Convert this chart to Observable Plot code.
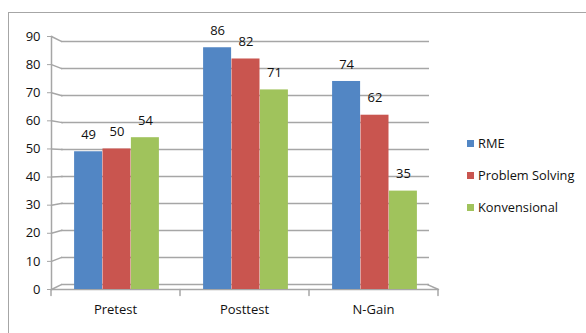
<!DOCTYPE html>
<html>
<head>
<meta charset="utf-8">
<script src="https://cdn.jsdelivr.net/npm/d3@7"></script>
<script src="https://cdn.jsdelivr.net/npm/@observablehq/plot@0.6"></script>
<style>
  html, body { margin: 0; padding: 0; background: #fff; }
  #wrap { position: relative; width: 586px; height: 333px; overflow: hidden; font-family: "Open Sans", sans-serif; }
  #border { position: absolute; left: 8px; top: 12px; width: 600px; height: 400px; border-left: 1.5px solid #A6A6A6; border-top: 1.5px solid #A6A6A6; }
  #chart { position: absolute; left: 0; top: 0; }
  #legend { position: absolute; left: 467px; top: 127px; font-size: 12.8px; color: #111; }
  .item { display: flex; align-items: center; height: 32px; }
  .sw { width: 7px; height: 7px; margin-right: 4px; }
</style>
</head>
<body>
<div id="wrap">
  <div id="border"></div>
  <div id="chart"></div>
  <div id="legend"></div>
</div>
<script>
const categories = ["Pretest", "Posttest", "N-Gain"];
const seriesNames = ["RME", "Problem Solving", "Konvensional"];
const rme = [49, 86, 74];
const problemSolving = [50, 82, 62];
const konvensional = [54, 71, 35];
const yTicks = [0, 10, 20, 30, 40, 50, 60, 70, 80, 90];

const colors = ["#5286C4", "#C9554F", "#A0C35C"];
const gridColor = "#A6A6A6";
const barW = 28.4;
const halfStep = 64.5;

// plain line segment shape for vectors (no arrowhead)
const segment = {draw(context, l) { context.moveTo(0, 0); context.lineTo(0, -l); }};

// back-wall (3D perspective) position of a gridline value, in y-scale units
const wall = v => 1.78 + 0.9605 * v;
// slope of the little perspective stub from the axis to the back wall
const stubRotate = v => 90 + Math.atan2(-5 + 0.111 * v, 10) * 180 / Math.PI;

const seriesData = [rme, problemSolving, konvensional];
const offsets = [-barW + 1.5, 1.5, barW + 1.5];

const barMarks = seriesData.map((vals, i) =>
  Plot.barY(categories, {x: d => d, y: (d, j) => vals[j], fill: colors[i], dx: offsets[i]})
);
const labelMarks = seriesData.map((vals, i) =>
  Plot.text(categories, {x: d => d, y: (d, j) => vals[j], text: (d, j) => String(vals[j]), dx: offsets[i], dy: -17, fill: "#111", fontSize: 13})
);

const chart = Plot.plot({
  width: 586,
  height: 333,
  marginLeft: 51,
  marginRight: 148,
  marginTop: 36,
  marginBottom: 44,
  style: {fontFamily: "Open Sans, sans-serif", fontSize: "13px", background: "transparent", color: "#111"},
  x: {domain: categories, paddingInner: 0.78, paddingOuter: 0.39, label: null},
  y: {domain: [0, 90], label: null},
  marks: [
    // back wall gridlines
    Plot.ruleY(yTicks, {y: d => wall(d), insetLeft: 10, insetRight: 9, stroke: gridColor, strokeWidth: 1.5}),
    // perspective stubs
    Plot.vector(yTicks, {y: d => d, frameAnchor: "left", rotate: d => stubRotate(d), length: 11, anchor: "start", shape: segment, stroke: gridColor, strokeWidth: 1.5}),
    // floor front edge
    Plot.ruleY([0], {stroke: gridColor, strokeWidth: 1.5}),
    // floor right diagonal
    Plot.vector([0], {y: d => d, frameAnchor: "right", rotate: 294, length: 12, anchor: "start", shape: segment, stroke: gridColor, strokeWidth: 1.5}),
    // category boundary ticks
    Plot.vector(categories, {x: d => d, dx: -halfStep, frameAnchor: "bottom", rotate: 180, length: 6, anchor: "start", shape: segment, stroke: gridColor, strokeWidth: 1.5}),
    Plot.vector([categories[categories.length - 1]], {x: d => d, dx: halfStep, frameAnchor: "bottom", rotate: 180, length: 6, anchor: "start", shape: segment, stroke: gridColor, strokeWidth: 1.5}),
    // y axis line
    Plot.frame({anchor: "left", stroke: gridColor, strokeWidth: 1.5}),
    Plot.axisY({ticks: yTicks, tickSize: 4, tickPadding: 7, stroke: gridColor, fill: "#111", fontSize: 13}),
    Plot.axisX({tickSize: 0, tickPadding: 15, fill: "#111", fontSize: 13}),
    ...barMarks,
    ...labelMarks
  ]
});
document.getElementById("chart").appendChild(chart);

const legend = document.getElementById("legend");
seriesNames.forEach((name, i) => {
  const item = document.createElement("div");
  item.className = "item";
  const sw = document.createElement("div");
  sw.className = "sw";
  sw.style.background = colors[i];
  const t = document.createElement("span");
  t.textContent = name;
  item.appendChild(sw);
  item.appendChild(t);
  legend.appendChild(item);
});
</script>
</body>
</html>
